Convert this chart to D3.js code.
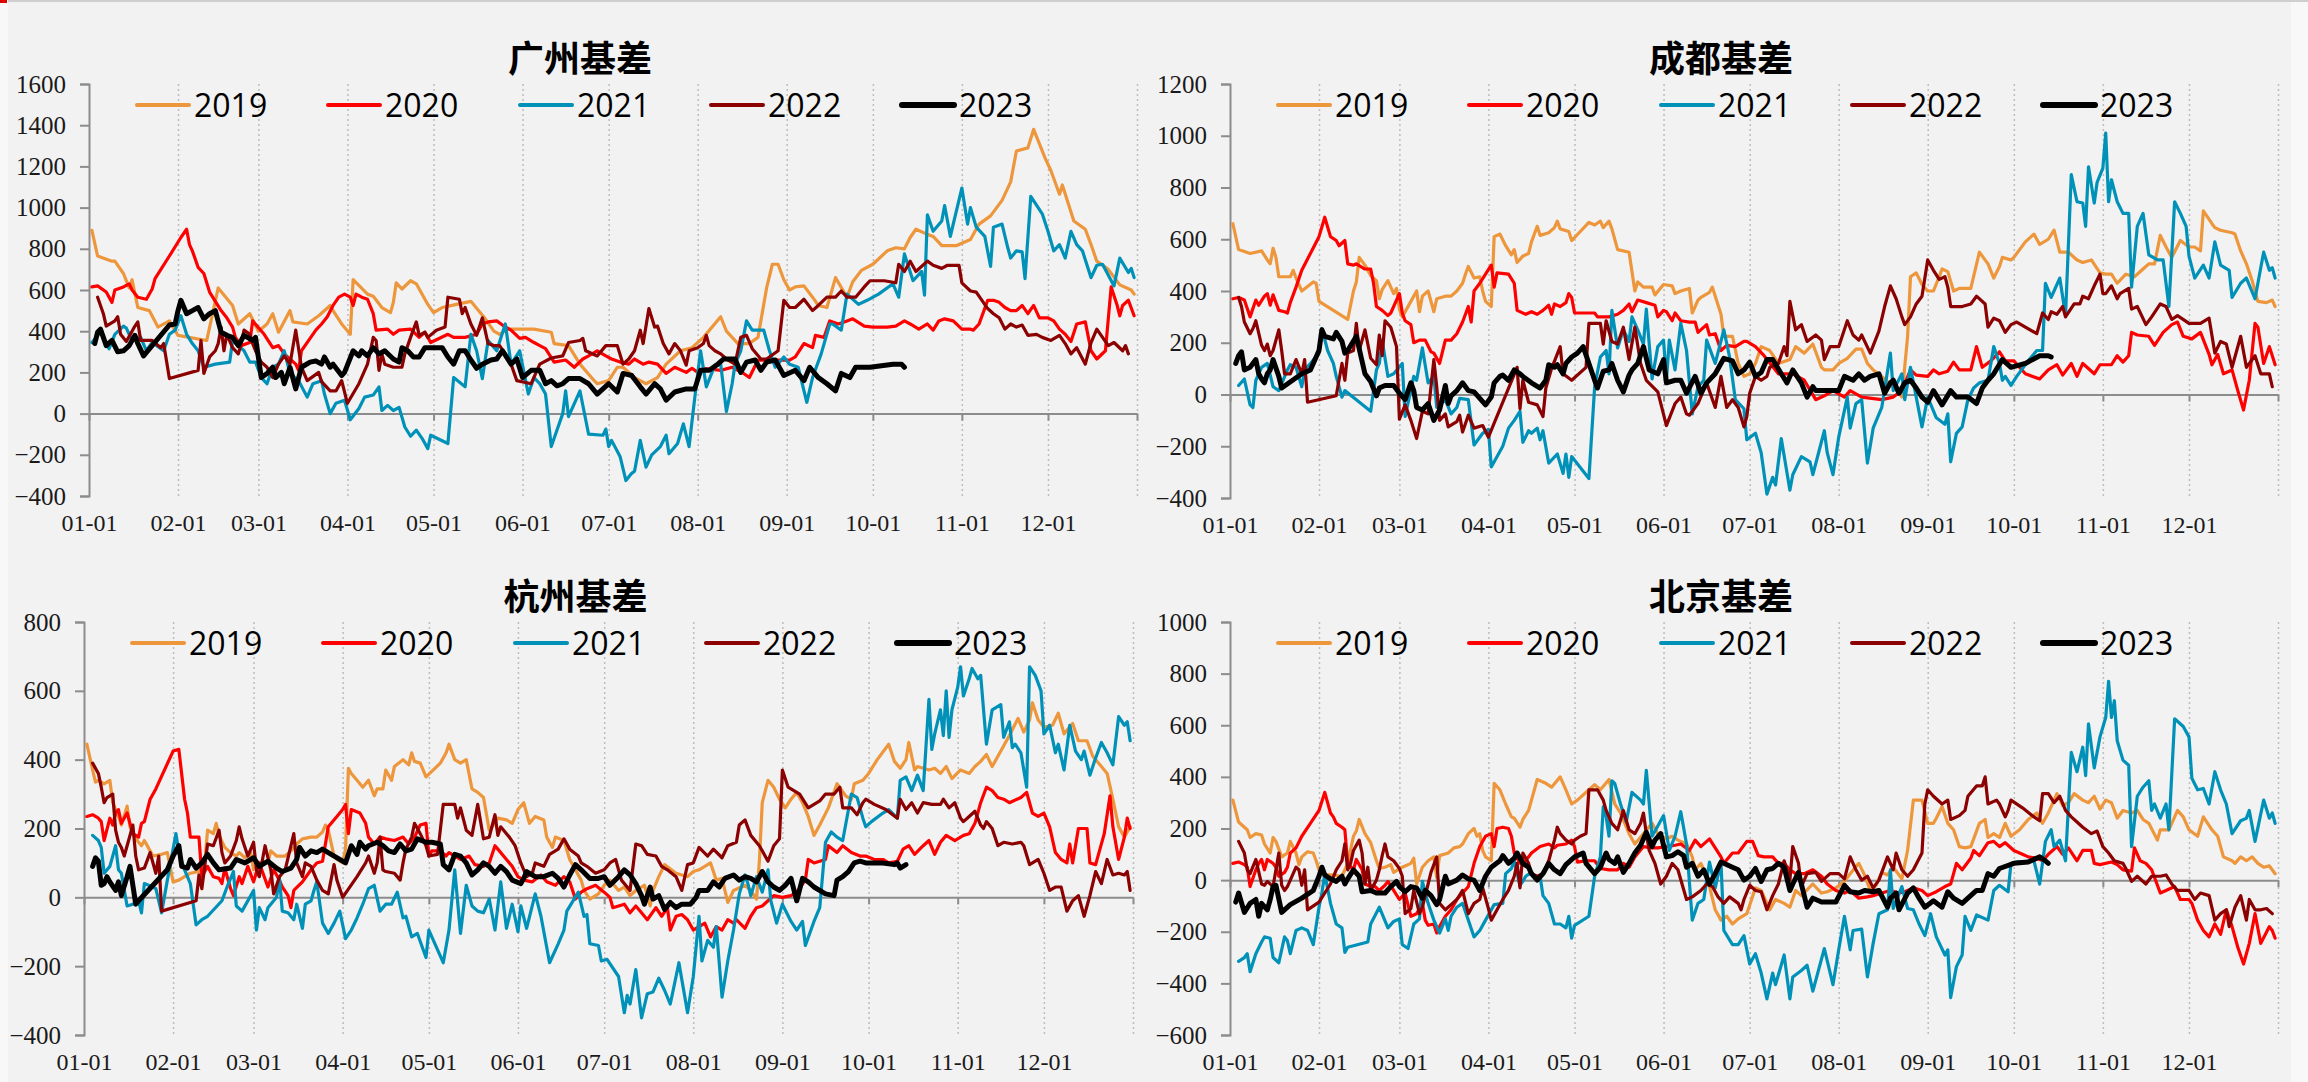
<!DOCTYPE html>
<html>
<head>
<meta charset="utf-8">
<style>
  html, body { margin: 0; padding: 0; background: #f2f2f2; }
  svg { display: block; }
  .tick text.serif { font-family: "Liberation Serif", "Times New Roman", serif; }
</style>
</head>
<body>
<div id="chart"></div>
<script src="https://d3js.org/d3.v7.min.js"></script>
<script>
// 年份与配色
const years = ["2019", "2020", "2021", "2022", "2023"];
const colors = ["#ED963C", "#FF0000", "#0091B9", "#8B0000", "#000000"];

// 数据: [年内第几天, 基差]
// 广州
const gz2019 = [[2,890],[4,765],[9,740],[10,740],[13,680],[15,610],[16,650],[18,515],[22,500],[25,420],[29,450],[32,380],[42,355],[46,610],[51,525],[53,435],[57,485],[60,400],[63,435],[65,485],[67,395],[71,500],[72,445],[77,435],[81,475],[85,525],[86,500],[89,435],[92,385],[93,650],[98,580],[100,570],[103,515],[106,490],[107,540],[108,635],[110,605],[113,645],[115,630],[119,530],[121,490],[124,515],[129,530],[134,545],[139,460],[142,400],[144,385],[147,410],[152,410],[156,410],[162,395],[163,340],[168,330],[172,240],[176,175],[178,145],[182,160],[185,225],[187,225],[191,175],[195,145],[199,175],[202,240],[207,305],[211,320],[215,370],[221,470],[223,400],[227,340],[231,340],[234,370],[237,610],[239,725],[241,725],[243,650],[245,600],[247,615],[250,620],[253,565],[255,525],[258,515],[261,660],[265,565],[267,640],[270,695],[274,725],[279,790],[282,805],[285,800],[287,855],[289,895],[293,870],[295,860],[298,815],[303,815],[308,845],[311,920],[315,960],[319,1035],[322,1125],[324,1275],[328,1290],[330,1380],[334,1240],[336,1180],[339,1065],[340,1110],[344,935],[348,895],[350,820],[352,740],[356,700],[360,625],[364,600],[365,580]];
const gz2020 = [[2,615],[4,620],[7,590],[9,540],[10,600],[13,615],[15,630],[16,600],[18,565],[21,555],[23,605],[24,655],[29,765],[33,855],[35,895],[36,820],[37,790],[39,710],[41,680],[43,590],[47,500],[49,465],[51,420],[52,370],[54,330],[57,345],[58,450],[62,385],[65,320],[67,330],[69,290],[73,240],[74,210],[75,305],[78,365],[80,405],[82,435],[84,470],[86,525],[88,565],[90,580],[92,565],[93,525],[94,580],[96,565],[98,555],[100,485],[101,405],[105,410],[107,385],[109,405],[113,410],[116,370],[118,395],[120,345],[126,385],[128,370],[132,370],[136,385],[138,435],[140,445],[143,450],[145,430],[148,405],[151,365],[153,370],[156,345],[158,330],[160,315],[163,250],[167,260],[170,225],[173,265],[175,280],[178,305],[181,280],[183,265],[186,250],[189,240],[191,265],[194,240],[196,250],[199,240],[202,195],[205,225],[209,200],[211,220],[213,200],[215,220],[221,210],[225,225],[229,195],[231,175],[234,260],[239,260],[245,260],[247,275],[250,340],[253,320],[254,380],[257,370],[259,450],[262,435],[265,450],[267,460],[271,425],[274,420],[279,420],[282,425],[285,450],[287,435],[290,410],[293,435],[295,405],[297,450],[299,460],[302,450],[305,410],[308,410],[309,405],[311,435],[314,550],[316,550],[318,540],[320,515],[322,500],[324,500],[326,525],[328,485],[330,525],[332,465],[335,465],[337,450],[339,410],[341,385],[343,350],[345,435],[348,445],[350,305],[352,265],[355,305],[357,615],[359,530],[360,475],[361,525],[363,550],[365,475]];
const gz2021 = [[2,345],[5,395],[8,315],[10,385],[13,425],[14,415],[16,355],[19,370],[21,305],[23,345],[27,305],[29,385],[31,405],[33,475],[35,385],[37,340],[39,305],[41,225],[45,240],[50,250],[51,355],[55,305],[57,250],[59,250],[61,175],[63,145],[65,225],[67,240],[69,305],[71,195],[74,160],[77,80],[79,145],[82,160],[83,95],[85,0],[87,50],[90,65],[92,-30],[95,25],[97,80],[100,90],[102,130],[103,15],[105,40],[107,15],[109,30],[111,-65],[113,-110],[115,-80],[117,-120],[119,-170],[120,-105],[126,-145],[128,175],[132,130],[134,385],[136,305],[138,170],[140,355],[143,305],[146,435],[148,240],[151,305],[154,95],[156,175],[158,145],[160,95],[162,-160],[164,-80],[166,0],[167,110],[168,-15],[172,110],[175,-100],[180,-105],[181,-75],[182,-160],[183,-130],[186,-210],[188,-325],[190,-290],[191,-280],[193,-130],[195,-260],[197,-200],[200,-160],[202,-105],[203,-195],[206,-145],[208,-50],[210,-160],[212,80],[214,305],[216,130],[219,235],[221,240],[223,10],[225,145],[226,240],[228,305],[230,450],[232,405],[236,405],[238,305],[240,225],[243,275],[245,240],[248,225],[251,55],[253,175],[256,290],[259,435],[260,435],[263,405],[265,580],[269,530],[272,550],[276,580],[281,630],[283,565],[285,775],[288,645],[291,690],[292,575],[293,965],[295,885],[298,935],[299,1010],[301,860],[302,920],[305,1095],[307,920],[308,1000],[310,905],[313,860],[315,715],[316,905],[319,920],[321,805],[322,755],[324,790],[326,785],[327,655],[329,1055],[333,970],[335,885],[337,790],[339,820],[341,755],[343,885],[345,820],[347,790],[350,660],[352,720],[354,725],[358,620],[360,755],[363,685],[364,705],[365,660]];
const gz2022 = [[4,565],[6,485],[7,425],[10,450],[11,470],[12,385],[14,350],[17,425],[18,445],[19,355],[23,355],[26,320],[27,340],[29,170],[39,210],[40,355],[41,195],[43,275],[45,305],[46,340],[47,420],[48,305],[49,385],[51,320],[53,290],[54,340],[55,405],[57,385],[58,340],[59,305],[61,250],[63,225],[65,175],[67,240],[69,280],[71,240],[73,405],[75,225],[77,160],[81,200],[82,155],[85,110],[87,110],[89,160],[91,50],[95,145],[98,240],[100,370],[101,355],[102,210],[103,290],[104,240],[107,225],[110,225],[111,290],[113,370],[115,445],[116,380],[118,395],[119,370],[122,405],[125,420],[126,565],[130,555],[131,485],[132,515],[134,435],[136,380],[138,465],[140,340],[142,330],[144,330],[146,290],[148,240],[150,160],[155,145],[158,240],[162,270],[166,280],[168,345],[172,355],[173,365],[174,305],[178,280],[181,330],[185,330],[187,240],[189,265],[191,305],[193,405],[194,340],[196,510],[198,420],[199,425],[201,340],[203,290],[205,340],[207,305],[209,235],[210,305],[213,320],[215,340],[216,380],[217,330],[219,305],[221,290],[223,265],[226,240],[228,370],[230,380],[232,315],[235,265],[237,265],[241,305],[243,550],[245,515],[247,515],[250,555],[253,500],[255,525],[258,565],[261,565],[263,595],[265,565],[268,565],[271,615],[273,645],[278,645],[282,635],[283,725],[285,690],[287,740],[289,690],[293,740],[295,720],[298,705],[300,720],[304,720],[305,635],[308,595],[310,590],[312,550],[314,510],[316,485],[318,465],[320,410],[322,435],[324,420],[326,430],[328,380],[331,385],[333,370],[336,355],[339,380],[341,340],[343,290],[345,320],[348,240],[350,345],[352,410],[354,370],[356,330],[358,345],[361,305],[362,330],[363,290]];
const gz2023 = [[3,340],[4,395],[5,410],[7,330],[9,355],[11,300],[13,305],[15,330],[17,380],[18,340],[20,280],[29,430],[31,435],[32,500],[33,550],[35,485],[37,500],[39,515],[41,460],[43,485],[45,500],[47,395],[49,380],[51,370],[53,330],[55,380],[58,355],[59,370],[61,175],[63,195],[65,225],[66,175],[68,200],[69,145],[71,225],[73,120],[75,225],[78,250],[80,255],[82,240],[83,275],[85,225],[86,240],[89,185],[90,200],[93,305],[95,280],[96,305],[98,280],[100,320],[102,290],[104,305],[107,265],[109,250],[110,320],[112,305],[114,275],[116,275],[118,320],[120,320],[124,320],[126,275],[128,240],[130,305],[132,305],[134,260],[136,220],[138,240],[141,260],[143,265],[145,305],[148,240],[150,265],[152,175],[155,210],[158,210],[160,145],[162,160],[164,135],[166,145],[168,170],[172,170],[175,145],[178,95],[182,145],[185,105],[187,195],[190,185],[193,130],[195,95],[198,145],[200,120],[202,65],[205,105],[209,120],[212,120],[214,210],[217,210],[220,240],[222,265],[226,265],[228,200],[230,250],[233,260],[235,210],[237,250],[240,260],[243,185],[247,210],[250,160],[252,225],[255,175],[258,145],[261,110],[263,195],[266,175],[268,225],[273,225],[281,240],[284,240],[285,225]];

// 成都
const cd2019 = [[2,660],[4,560],[8,545],[12,555],[14,520],[15,505],[16,565],[17,530],[18,455],[22,455],[23,480],[24,450],[26,400],[30,435],[31,430],[32,360],[42,290],[44,400],[45,435],[46,530],[48,500],[50,460],[52,440],[53,370],[54,405],[56,440],[58,390],[59,410],[60,330],[61,300],[64,360],[66,400],[67,320],[68,380],[70,400],[72,320],[73,370],[76,380],[78,380],[80,400],[82,430],[83,465],[84,495],[86,450],[88,455],[89,400],[90,360],[92,340],[93,610],[95,620],[97,575],[99,540],[100,560],[101,510],[103,535],[105,545],[106,590],[108,650],[109,615],[112,625],[114,645],[115,670],[116,640],[119,630],[120,595],[123,630],[126,665],[128,655],[130,670],[131,645],[133,670],[134,640],[136,560],[140,550],[142,400],[143,435],[145,415],[148,415],[149,385],[152,425],[155,420],[156,390],[158,400],[161,410],[162,315],[164,365],[165,375],[168,395],[169,415],[172,310],[173,225],[176,225],[178,120],[180,70],[182,80],[184,120],[186,185],[189,170],[192,120],[196,135],[198,185],[201,160],[204,195],[207,105],[208,95],[211,95],[213,120],[216,140],[219,175],[221,175],[223,120],[225,95],[228,70],[232,30],[235,-10],[237,225],[238,455],[240,470],[242,425],[244,400],[246,400],[248,455],[249,485],[251,475],[253,400],[255,410],[259,410],[262,550],[265,505],[267,450],[269,495],[270,530],[273,520],[274,530],[278,590],[281,620],[283,580],[286,600],[288,635],[290,550],[293,550],[296,520],[298,510],[301,520],[304,470],[306,465],[308,465],[310,430],[313,465],[316,455],[319,485],[321,505],[323,505],[325,615],[327,570],[329,530],[332,595],[335,570],[337,570],[339,555],[340,710],[343,660],[344,645],[346,635],[350,625],[351,620],[353,555],[355,505],[357,440],[359,360],[362,355],[364,365],[365,340]];
const cd2020 = [[2,370],[4,375],[6,365],[8,300],[10,365],[11,345],[13,380],[14,390],[15,345],[16,385],[18,325],[20,320],[21,315],[22,355],[24,415],[26,480],[32,610],[34,685],[36,610],[38,595],[39,575],[41,595],[42,505],[44,500],[45,505],[48,485],[50,485],[51,430],[52,340],[54,325],[56,305],[57,315],[60,390],[61,315],[62,285],[64,270],[65,200],[67,210],[69,210],[71,165],[72,160],[74,120],[76,210],[78,210],[80,235],[82,280],[84,340],[85,280],[86,400],[88,430],[90,465],[92,500],[93,415],[94,470],[98,465],[100,430],[101,325],[104,310],[106,320],[108,310],[110,325],[112,345],[113,310],[114,350],[116,340],[118,355],[119,390],[120,375],[121,315],[128,315],[129,300],[133,300],[136,310],[138,325],[140,350],[141,320],[143,365],[146,355],[149,345],[150,300],[152,325],[153,320],[155,285],[156,315],[158,285],[161,280],[163,280],[164,240],[167,270],[168,230],[170,235],[172,170],[174,190],[177,185],[180,205],[181,205],[184,185],[187,150],[192,80],[197,80],[201,55],[205,-20],[208,-5],[211,15],[215,-10],[217,15],[221,-10],[228,-20],[232,-10],[235,15],[238,95],[240,75],[244,70],[246,95],[248,80],[251,90],[253,125],[255,95],[259,95],[261,185],[263,105],[266,130],[269,165],[271,130],[274,130],[278,80],[283,60],[286,95],[289,115],[291,75],[294,120],[296,70],[298,120],[302,80],[304,115],[308,115],[310,150],[312,125],[314,150],[315,240],[317,230],[321,225],[323,190],[326,240],[329,270],[331,280],[333,225],[336,215],[339,240],[342,155],[343,115],[345,155],[347,80],[350,95],[352,15],[354,-60],[356,55],[358,275],[359,260],[361,120],[363,185],[365,115]];
const cd2021 = [[4,35],[6,60],[8,-40],[9,-50],[10,55],[12,105],[14,120],[16,30],[18,15],[21,95],[22,115],[24,105],[26,30],[27,95],[29,120],[32,160],[33,255],[35,170],[37,120],[38,70],[40,-10],[41,15],[45,-20],[50,-65],[52,95],[53,120],[54,210],[56,70],[58,80],[61,120],[62,-85],[65,70],[66,55],[68,180],[70,45],[72,70],[73,-50],[76,-20],[78,-75],[80,-50],[81,-15],[84,-20],[86,-195],[89,-150],[91,-135],[92,-280],[96,-200],[98,-130],[100,-100],[102,-65],[103,-185],[105,-140],[106,-150],[108,-130],[109,-175],[110,-140],[112,-265],[115,-230],[117,-305],[118,-230],[119,-320],[120,-240],[126,-325],[128,30],[130,145],[132,170],[133,80],[134,325],[136,180],[138,250],[140,205],[141,300],[143,250],[145,195],[146,330],[148,60],[150,185],[152,210],[153,55],[154,210],[156,95],[158,275],[160,170],[162,-75],[164,30],[166,55],[167,210],[170,120],[173,250],[175,145],[177,-20],[180,-55],[181,-175],[184,-150],[186,-225],[188,-385],[190,-320],[191,-350],[193,-170],[196,-370],[197,-310],[200,-240],[203,-260],[204,-310],[208,-140],[209,-225],[211,-310],[213,-165],[216,-10],[217,-130],[219,-35],[221,-20],[223,-265],[225,-130],[228,-50],[231,160],[232,15],[235,80],[236,-20],[238,105],[240,-10],[242,-125],[244,-10],[247,-90],[250,-115],[251,-75],[252,-260],[254,-150],[256,-125],[258,-20],[260,25],[262,45],[265,55],[267,185],[269,120],[270,55],[271,70],[273,35],[275,70],[279,130],[282,170],[284,170],[285,430],[287,375],[288,400],[290,450],[292,305],[294,850],[296,745],[298,740],[299,650],[300,880],[302,740],[303,820],[305,875],[306,1010],[307,745],[308,830],[310,745],[312,700],[314,700],[315,415],[317,650],[319,700],[321,540],[324,520],[326,520],[328,340],[330,745],[332,700],[334,650],[335,535],[337,450],[340,500],[342,450],[344,590],[346,500],[349,480],[350,375],[353,430],[355,450],[358,370],[361,550],[363,480],[364,490],[365,450]];
const cd2022 = [[4,375],[5,340],[6,280],[8,235],[9,255],[10,285],[12,190],[13,170],[14,195],[15,150],[16,170],[18,250],[19,170],[20,80],[22,80],[24,135],[26,80],[27,135],[28,-30],[38,-5],[40,120],[41,55],[42,160],[44,170],[45,275],[46,170],[48,250],[50,140],[52,115],[53,230],[54,150],[55,285],[57,260],[59,185],[60,-95],[62,-40],[64,-100],[66,-170],[68,-65],[70,-75],[72,135],[73,30],[74,-100],[76,-75],[77,-125],[80,-105],[81,-80],[82,-145],[84,-80],[86,-130],[89,-120],[91,-165],[101,105],[102,-55],[103,55],[105,-30],[108,-40],[110,-85],[111,25],[113,100],[116,185],[117,80],[120,55],[125,105],[126,275],[130,275],[131,195],[132,285],[134,205],[136,195],[138,260],[140,135],[142,260],[144,120],[146,55],[150,10],[153,-120],[156,-35],[158,-10],[160,-75],[161,-80],[164,-35],[167,45],[170,-50],[172,70],[174,-50],[176,-20],[178,-50],[180,-125],[181,-85],[182,5],[184,70],[186,55],[188,70],[189,105],[192,120],[194,185],[195,150],[196,360],[198,250],[200,270],[202,205],[205,230],[207,210],[208,135],[210,185],[213,185],[216,285],[218,230],[220,210],[221,230],[224,160],[227,245],[229,340],[231,420],[233,370],[235,300],[236,270],[238,300],[240,350],[242,380],[244,520],[246,480],[248,445],[250,455],[251,415],[252,340],[256,340],[259,350],[261,380],[264,350],[265,260],[267,295],[269,285],[271,240],[273,270],[275,280],[282,235],[284,315],[286,290],[287,320],[289,310],[291,340],[292,300],[295,350],[297,350],[298,380],[300,370],[302,420],[304,465],[305,390],[306,390],[308,420],[310,370],[311,390],[314,410],[315,330],[317,340],[320,270],[322,300],[325,350],[327,340],[329,290],[331,305],[335,275],[339,275],[342,295],[344,160],[346,205],[348,195],[350,105],[353,225],[355,105],[358,150],[360,80],[363,80],[364,30]];
const cd2023 = [[3,120],[4,150],[5,165],[6,95],[8,105],[10,135],[11,80],[12,60],[13,45],[14,80],[15,95],[16,135],[18,70],[19,25],[26,80],[29,95],[32,170],[33,250],[34,225],[37,215],[38,240],[40,205],[41,160],[42,170],[45,225],[48,80],[50,50],[52,-5],[53,25],[55,35],[58,35],[60,5],[62,-20],[64,45],[65,15],[66,-50],[68,-60],[70,-35],[72,-100],[74,-60],[76,35],[77,-35],[78,-5],[80,15],[82,45],[84,15],[86,10],[90,-40],[92,-10],[93,45],[95,70],[96,75],[98,55],[100,95],[102,80],[103,70],[106,45],[109,25],[111,55],[112,115],[114,105],[115,115],[117,80],[118,120],[120,145],[122,160],[124,185],[126,120],[128,55],[129,25],[131,90],[133,95],[134,120],[136,55],[138,10],[140,75],[141,95],[143,120],[145,185],[147,95],[150,80],[152,135],[153,45],[156,55],[158,55],[160,5],[163,70],[165,5],[167,45],[170,80],[173,140],[176,130],[178,80],[180,95],[182,125],[184,70],[186,85],[188,135],[190,135],[193,80],[195,45],[197,95],[200,45],[202,-10],[204,30],[205,15],[211,15],[213,15],[215,70],[218,55],[220,80],[222,55],[224,70],[227,80],[229,5],[231,45],[232,55],[234,5],[236,45],[238,55],[240,25],[242,-10],[244,-30],[246,15],[249,-40],[252,15],[254,-10],[258,-10],[261,-35],[263,25],[265,55],[267,80],[270,135],[273,105],[278,120],[283,150],[286,150],[287,145]];

// 杭州
const hz2019 = [[2,445],[4,370],[5,335],[6,340],[8,330],[10,340],[11,275],[13,235],[14,210],[16,265],[17,205],[18,185],[20,160],[21,150],[22,165],[24,135],[25,120],[28,125],[30,130],[32,45],[34,50],[36,60],[38,70],[41,75],[43,100],[44,195],[46,185],[47,215],[48,180],[50,145],[52,130],[54,120],[55,130],[57,115],[59,130],[60,80],[62,100],[65,100],[66,135],[68,120],[71,120],[73,135],[75,155],[77,170],[80,175],[82,175],[84,190],[85,210],[86,195],[88,120],[89,110],[91,100],[92,140],[93,375],[94,360],[96,340],[98,320],[100,340],[102,295],[103,315],[105,315],[106,370],[108,340],[109,380],[112,400],[114,385],[115,420],[116,395],[118,390],[120,350],[125,390],[127,420],[128,445],[130,400],[132,390],[134,400],[136,315],[138,305],[140,290],[142,195],[143,205],[145,230],[148,225],[150,215],[152,255],[154,275],[156,215],[158,235],[161,225],[162,175],[164,145],[165,175],[168,165],[170,110],[172,80],[174,50],[175,20],[177,-5],[180,10],[182,35],[184,50],[187,20],[189,30],[191,5],[193,20],[196,35],[198,-25],[199,20],[201,60],[203,95],[207,70],[211,60],[213,75],[215,80],[219,100],[221,50],[223,55],[225,-15],[227,20],[231,35],[233,20],[235,-5],[236,105],[237,275],[239,340],[241,320],[243,285],[245,260],[247,285],[249,305],[251,275],[253,235],[255,180],[257,210],[260,260],[263,330],[266,295],[268,285],[269,330],[272,340],[274,360],[277,400],[281,445],[283,395],[285,375],[287,400],[288,450],[290,370],[291,380],[295,370],[297,375],[299,360],[301,380],[303,345],[306,370],[309,360],[311,380],[313,395],[315,415],[317,380],[320,425],[323,470],[326,520],[328,480],[330,515],[331,565],[333,515],[335,495],[338,500],[340,535],[342,475],[345,505],[347,455],[350,455],[352,410],[355,380],[357,360],[359,285],[361,205],[363,175],[365,205]];
const hz2020 = [[2,235],[4,240],[6,230],[7,220],[8,165],[10,230],[11,210],[12,245],[13,255],[14,215],[16,245],[17,215],[18,185],[20,175],[21,215],[22,220],[24,285],[26,315],[32,425],[34,430],[36,285],[37,245],[38,175],[41,175],[42,60],[44,90],[46,60],[48,55],[49,40],[50,85],[52,25],[53,5],[55,60],[56,40],[58,90],[60,45],[62,100],[65,30],[67,80],[69,50],[70,30],[72,5],[73,-30],[74,20],[77,45],[80,80],[82,100],[84,105],[86,205],[89,235],[91,255],[92,270],[93,185],[94,255],[97,245],[99,215],[100,175],[102,155],[104,175],[106,170],[109,165],[112,175],[114,155],[116,175],[118,210],[120,215],[121,120],[122,135],[125,135],[127,120],[128,130],[132,110],[135,120],[137,95],[140,90],[142,100],[144,150],[145,140],[148,110],[150,90],[152,60],[154,50],[157,45],[160,65],[162,45],[165,35],[168,60],[170,45],[172,-5],[174,15],[176,25],[179,35],[182,15],[184,0],[185,-30],[187,-25],[189,-20],[191,-45],[193,-25],[195,-45],[197,-65],[200,-30],[202,-55],[204,-30],[205,-95],[207,-55],[209,-50],[211,-65],[213,-95],[215,-85],[217,-75],[219,-115],[221,-85],[223,-95],[225,-65],[227,-75],[228,-65],[231,-90],[233,-55],[235,-30],[237,-25],[239,-10],[241,5],[244,0],[247,5],[249,15],[252,50],[253,110],[255,100],[259,110],[260,150],[263,130],[265,150],[268,130],[271,120],[273,120],[276,110],[279,110],[281,100],[284,105],[286,140],[288,150],[290,125],[293,150],[295,165],[297,125],[299,160],[301,180],[304,165],[307,180],[309,185],[311,215],[313,275],[315,320],[317,310],[319,290],[321,285],[323,275],[327,290],[329,305],[331,245],[333,235],[335,245],[337,205],[339,130],[341,110],[343,100],[344,155],[345,100],[347,200],[350,200],[351,100],[353,95],[356,185],[358,295],[359,205],[361,110],[363,175],[364,230],[365,200]];
const hz2021 = [[4,180],[6,165],[7,145],[8,70],[10,90],[12,150],[13,80],[14,70],[16,-25],[18,-20],[20,-10],[21,-45],[22,40],[25,30],[26,25],[28,-45],[30,50],[33,185],[34,130],[36,80],[38,40],[40,-80],[42,-65],[44,-55],[49,-10],[51,35],[53,75],[54,-25],[56,-40],[60,20],[61,-95],[62,-30],[64,-65],[65,-30],[68,0],[69,55],[70,-40],[72,-45],[74,-65],[75,-20],[77,-90],[78,-20],[80,-10],[81,20],[82,45],[84,-75],[86,-105],[88,-75],[90,-40],[92,-120],[94,-95],[96,-60],[98,-20],[100,25],[102,35],[104,-40],[106,-20],[108,-20],[110,15],[112,-60],[113,-55],[115,-115],[117,-105],[120,-175],[121,-95],[126,-190],[128,-95],[130,80],[132,-105],[134,35],[136,-25],[138,-40],[140,-45],[142,-5],[144,-95],[146,45],[148,-90],[150,-20],[152,-100],[153,-25],[155,-90],[158,10],[160,-55],[163,-190],[166,-135],[168,-95],[169,-40],[173,15],[175,-55],[176,-50],[177,-135],[180,-140],[181,-185],[183,-180],[187,-230],[189,-335],[190,-285],[191,-310],[193,-210],[195,-350],[197,-280],[199,-275],[201,-235],[203,-270],[205,-310],[208,-190],[211,-335],[213,-230],[215,-55],[216,-185],[218,-125],[220,-145],[221,-85],[223,-290],[225,-185],[227,-95],[229,10],[231,65],[232,40],[233,5],[235,60],[237,15],[239,80],[240,-10],[242,-75],[244,-20],[247,-70],[249,-95],[251,-70],[252,-140],[255,-70],[257,-30],[259,160],[261,190],[263,175],[265,165],[267,255],[268,300],[270,290],[272,230],[273,205],[275,220],[279,245],[281,255],[284,230],[285,340],[287,350],[289,310],[291,355],[293,310],[295,575],[296,430],[297,475],[299,545],[300,470],[301,600],[302,465],[303,545],[305,610],[306,670],[307,585],[309,635],[310,665],[312,635],[313,645],[315,445],[317,545],[320,560],[321,465],[323,510],[324,435],[325,445],[327,420],[329,320],[330,670],[332,645],[334,600],[335,475],[337,500],[339,420],[340,445],[342,370],[344,500],[346,425],[348,400],[349,425],[351,355],[353,405],[355,450],[357,420],[359,385],[361,525],[363,500],[364,510],[365,455]];
const hz2022 = [[4,390],[6,360],[7,320],[8,275],[9,290],[11,300],[12,195],[13,160],[14,145],[15,120],[16,150],[18,210],[19,120],[20,80],[22,85],[24,130],[26,70],[27,120],[28,-40],[40,-10],[41,65],[42,25],[44,155],[46,150],[48,195],[49,130],[50,100],[52,120],[54,165],[55,205],[56,170],[58,120],[60,160],[61,80],[62,60],[64,150],[66,80],[67,10],[69,60],[71,80],[74,185],[75,100],[77,60],[78,100],[80,90],[82,50],[84,20],[86,10],[88,95],[89,50],[91,0],[96,60],[99,100],[100,120],[102,70],[103,100],[104,175],[105,80],[106,75],[109,70],[111,50],[112,100],[113,140],[115,175],[116,215],[118,185],[120,150],[121,120],[124,125],[126,270],[130,270],[131,230],[132,260],[134,195],[136,180],[138,270],[140,170],[142,175],[144,240],[145,180],[146,205],[149,175],[151,150],[153,100],[155,60],[157,70],[158,100],[161,90],[163,125],[166,140],[168,170],[170,140],[173,120],[174,100],[176,90],[179,70],[182,80],[184,100],[186,110],[188,50],[191,20],[193,155],[195,150],[197,125],[200,120],[202,90],[204,80],[207,60],[209,20],[211,95],[213,100],[215,145],[218,120],[220,140],[223,115],[225,150],[228,160],[229,210],[231,225],[233,180],[236,150],[239,105],[241,150],[243,170],[244,370],[246,320],[248,310],[250,300],[253,260],[255,270],[257,280],[259,300],[262,300],[264,320],[265,260],[268,260],[270,240],[272,275],[273,285],[276,270],[280,255],[284,230],[285,285],[287,255],[289,275],[291,245],[293,275],[296,270],[299,270],[300,285],[302,260],[304,275],[306,230],[307,220],[309,235],[311,250],[313,210],[314,200],[315,220],[317,200],[319,150],[321,160],[324,155],[327,160],[328,150],[330,95],[333,110],[335,70],[337,20],[339,30],[341,30],[343,-40],[345,-10],[347,5],[349,-55],[351,5],[353,75],[355,40],[357,110],[359,65],[361,70],[363,65],[364,75],[365,20]];
const hz2023 = [[4,90],[5,115],[6,105],[7,35],[8,40],[9,60],[10,45],[12,20],[13,45],[14,5],[16,60],[17,90],[19,-20],[20,-10],[30,80],[32,120],[34,150],[35,90],[37,85],[38,110],[40,85],[42,100],[44,125],[46,100],[48,80],[52,85],[54,110],[57,100],[60,115],[62,90],[65,105],[68,85],[70,75],[73,85],[75,110],[76,145],[78,120],[80,135],[82,130],[84,140],[87,125],[90,110],[92,100],[94,150],[96,125],[97,160],[99,140],[100,150],[103,160],[105,150],[107,135],[109,130],[111,155],[113,135],[115,140],[117,170],[120,160],[122,160],[125,155],[126,95],[128,80],[130,125],[132,120],[134,100],[136,65],[138,80],[140,100],[142,90],[144,70],[146,90],[148,75],[150,50],[153,40],[154,55],[155,75],[158,60],[161,60],[164,70],[166,55],[168,30],[170,65],[172,95],[174,80],[177,55],[180,55],[182,60],[184,35],[187,60],[189,80],[191,65],[193,40],[195,5],[196,-20],[198,30],[199,-5],[201,5],[203,-35],[205,-15],[207,-30],[209,-20],[212,-20],[214,0],[215,20],[218,20],[220,45],[222,30],[224,55],[227,65],[229,50],[231,60],[233,55],[235,45],[237,75],[239,45],[241,30],[243,20],[245,35],[247,55],[249,-10],[251,55],[253,45],[255,30],[259,10],[262,5],[263,50],[265,60],[267,75],[269,100],[271,105],[273,100],[279,100],[283,95],[284,100],[285,85],[287,95]];

// 北京
const bj2019 = [[2,310],[4,225],[6,205],[7,195],[8,165],[10,180],[12,175],[13,140],[15,105],[16,165],[17,150],[19,90],[21,105],[22,150],[24,105],[25,60],[26,90],[28,110],[30,105],[31,75],[32,40],[34,20],[36,20],[40,15],[42,65],[44,170],[45,190],[46,235],[48,180],[50,145],[52,75],[53,45],[55,50],[57,60],[58,30],[61,50],[64,65],[65,85],[66,-15],[68,50],[70,75],[72,90],[73,10],[74,95],[77,105],[79,125],[81,130],[82,140],[84,180],[86,200],[87,170],[88,180],[89,115],[90,90],[92,75],[93,375],[95,350],[97,295],[99,245],[100,240],[102,205],[103,235],[105,270],[106,310],[108,390],[111,375],[113,360],[116,400],[118,350],[120,295],[122,310],[126,350],[128,370],[130,350],[133,390],[135,295],[137,260],[140,180],[142,140],[145,180],[148,220],[150,180],[153,160],[155,170],[157,155],[160,140],[162,90],[163,40],[165,65],[166,40],[168,-25],[170,-115],[172,-155],[174,-140],[176,-170],[178,-150],[181,-130],[184,-30],[186,-40],[189,-115],[191,-75],[194,-90],[196,-105],[198,-40],[200,-60],[204,-15],[207,-50],[209,-45],[212,-30],[215,-5],[217,25],[220,65],[222,20],[224,-40],[226,-20],[228,30],[230,20],[232,50],[235,5],[237,115],[239,310],[242,310],[244,220],[246,220],[247,240],[249,285],[251,220],[253,195],[255,130],[257,125],[259,130],[262,220],[264,235],[265,165],[267,180],[269,165],[271,220],[273,170],[276,195],[279,235],[282,260],[284,220],[286,260],[289,335],[291,290],[293,300],[295,335],[298,310],[300,300],[302,325],[304,275],[306,310],[308,300],[310,240],[312,270],[315,260],[317,270],[319,235],[321,220],[324,155],[325,195],[328,195],[331,270],[333,245],[335,195],[338,170],[340,245],[343,195],[345,170],[347,90],[350,75],[351,65],[353,90],[355,75],[357,90],[359,65],[361,50],[363,55],[365,25]];
const bj2020 = [[2,65],[4,70],[6,60],[7,50],[8,-25],[10,40],[11,65],[12,80],[13,40],[14,80],[16,65],[17,50],[18,15],[20,30],[21,50],[22,105],[24,125],[26,170],[29,220],[32,270],[34,340],[36,260],[37,245],[38,220],[40,205],[41,195],[42,65],[44,40],[45,80],[47,40],[48,-15],[50,-25],[51,-20],[53,-40],[55,-20],[56,-5],[58,-40],[60,-75],[62,-50],[64,-140],[66,-130],[68,-90],[69,-155],[70,-175],[72,-170],[73,-205],[74,-180],[76,-140],[78,-115],[80,-75],[82,-50],[84,-25],[86,65],[88,130],[90,170],[92,180],[93,130],[94,200],[96,205],[98,200],[99,170],[100,105],[102,65],[103,65],[105,90],[106,105],[109,130],[112,140],[114,125],[115,135],[118,140],[120,155],[121,130],[122,70],[125,75],[128,75],[130,45],[133,40],[136,40],[138,65],[140,50],[142,90],[145,130],[148,125],[150,125],[153,130],[156,135],[158,140],[161,115],[163,155],[165,130],[168,160],[170,125],[172,90],[173,65],[176,105],[178,105],[181,150],[183,150],[185,95],[187,90],[190,90],[192,65],[194,65],[196,40],[198,25],[201,25],[204,40],[207,15],[209,-15],[212,-40],[215,-50],[217,-40],[220,-70],[223,-65],[225,-60],[228,-50],[231,-40],[234,-50],[236,-45],[239,-30],[242,-40],[244,-60],[247,-45],[250,-25],[252,-15],[254,65],[256,40],[259,85],[260,115],[262,95],[265,145],[267,150],[269,130],[271,145],[274,115],[277,100],[279,90],[282,85],[284,75],[286,100],[289,130],[291,100],[293,125],[296,75],[298,115],[301,115],[302,65],[304,60],[308,70],[310,60],[312,40],[315,35],[316,125],[318,75],[320,65],[322,40],[325,-50],[327,-40],[330,-25],[332,-75],[335,-75],[336,-90],[338,-155],[340,-195],[342,-220],[344,-170],[346,-210],[348,-115],[350,-180],[352,-260],[354,-325],[356,-245],[358,-130],[360,-245],[363,-180],[364,-195],[365,-225]];
const bj2021 = [[4,-315],[6,-300],[7,-285],[8,-355],[10,-285],[12,-240],[13,-220],[15,-225],[16,-300],[18,-320],[20,-220],[21,-235],[22,-285],[24,-195],[26,-185],[28,-195],[30,-250],[32,-105],[33,-50],[34,25],[36,-90],[38,-170],[40,-185],[41,-280],[42,-260],[49,-240],[50,-170],[53,-105],[56,-185],[58,-160],[60,-150],[61,-250],[63,-265],[65,-170],[67,-150],[68,-5],[70,-90],[72,-155],[74,-205],[76,-150],[77,-195],[78,-140],[80,-105],[82,-90],[84,-155],[86,-220],[88,-195],[90,-155],[93,-95],[96,-90],[97,25],[99,45],[100,75],[102,-20],[103,-5],[104,15],[106,30],[108,5],[109,15],[110,-60],[112,-90],[114,-170],[116,-170],[118,-185],[119,-140],[120,-225],[121,-175],[126,-140],[128,15],[130,90],[131,285],[132,245],[133,170],[134,385],[135,375],[137,295],[139,225],[141,340],[144,310],[145,295],[146,425],[148,170],[150,210],[152,250],[154,115],[156,170],[158,265],[160,140],[162,-155],[164,-90],[166,-75],[168,70],[170,-30],[172,70],[173,-195],[176,-250],[178,-250],[180,-215],[182,-325],[184,-285],[186,-360],[188,-460],[190,-360],[191,-405],[194,-290],[196,-460],[197,-375],[200,-350],[202,-330],[204,-430],[208,-265],[211,-405],[213,-270],[215,-140],[217,-270],[218,-195],[221,-190],[223,-375],[225,-245],[227,-130],[230,-115],[231,40],[232,-110],[235,-25],[237,-110],[239,-115],[241,-170],[243,-215],[245,-130],[247,-220],[250,-290],[251,-270],[252,-455],[254,-335],[256,-290],[257,-140],[259,-195],[261,-135],[265,-155],[267,-40],[269,-20],[272,-45],[273,65],[275,70],[281,75],[283,-15],[285,150],[287,195],[288,130],[290,155],[292,75],[294,495],[296,420],[298,515],[299,405],[300,605],[302,435],[304,555],[306,630],[307,770],[308,630],[309,695],[310,540],[312,465],[314,445],[315,130],[317,325],[319,360],[321,385],[322,270],[323,295],[325,240],[327,295],[328,195],[330,625],[333,595],[335,555],[336,395],[338,350],[340,355],[342,295],[344,420],[346,350],[348,295],[350,180],[353,230],[355,240],[356,270],[358,150],[361,310],[363,240],[364,260],[365,220]];
const bj2022 = [[4,150],[6,105],[7,40],[8,25],[10,80],[12,-15],[13,-20],[14,-5],[16,-25],[18,105],[19,-20],[20,-40],[21,-25],[23,25],[24,50],[25,40],[26,-20],[27,40],[28,-115],[32,-85],[36,-15],[38,40],[40,75],[41,140],[42,40],[43,65],[44,115],[46,155],[47,105],[48,-15],[49,50],[50,-40],[52,0],[53,40],[54,95],[55,140],[56,90],[58,75],[60,45],[61,15],[62,-130],[64,-110],[65,-40],[67,-130],[68,-105],[70,-15],[71,30],[73,90],[74,-90],[76,-115],[78,-95],[80,-75],[82,-40],[84,-130],[86,-90],[88,-75],[89,-30],[91,-110],[92,-155],[94,-115],[96,-75],[98,-40],[100,15],[101,65],[102,-30],[103,105],[105,65],[106,25],[108,15],[110,25],[112,75],[114,155],[115,205],[116,180],[118,155],[120,140],[121,155],[123,170],[125,180],[126,350],[129,350],[131,310],[132,270],[134,220],[136,195],[138,270],[140,195],[142,180],[144,220],[145,260],[146,180],[147,115],[149,65],[151,-15],[153,15],[155,65],[157,40],[160,-75],[162,-65],[165,-40],[167,-15],[169,-25],[171,-65],[173,-90],[175,-65],[178,-90],[179,-115],[180,-75],[182,-20],[184,-40],[186,-45],[188,-115],[190,-60],[192,-15],[194,75],[196,0],[197,130],[199,65],[200,-25],[202,25],[205,30],[207,-5],[210,25],[213,25],[215,5],[217,90],[219,40],[221,0],[223,15],[225,-30],[227,0],[230,90],[232,40],[233,105],[235,40],[237,15],[239,40],[242,105],[243,295],[244,350],[246,325],[249,295],[251,310],[252,235],[255,250],[257,270],[258,325],[261,365],[263,365],[264,400],[265,295],[268,310],[269,295],[271,245],[272,270],[273,310],[277,280],[281,245],[283,230],[284,335],[286,335],[288,300],[290,325],[292,270],[294,245],[296,225],[298,205],[301,180],[303,190],[305,130],[307,105],[309,75],[312,65],[313,45],[315,-5],[317,15],[320,-15],[322,15],[325,15],[327,20],[329,-15],[331,-40],[335,-40],[337,-75],[339,-50],[342,-60],[344,-155],[346,-130],[348,-115],[349,-180],[351,-105],[353,-60],[355,-155],[356,-75],[358,-115],[360,-115],[362,-110],[364,-130]];
const bj2023 = [[3,-85],[4,-50],[6,-125],[8,-90],[10,-75],[11,-140],[12,-90],[14,-115],[15,-75],[16,-25],[17,-20],[19,-125],[22,-95],[26,-70],[30,-40],[32,15],[33,50],[34,20],[36,5],[38,-5],[40,15],[41,-15],[42,5],[44,40],[46,15],[47,-45],[50,-40],[52,-50],[55,-50],[57,-25],[59,-5],[60,-25],[62,-45],[64,-25],[66,-30],[68,-70],[69,-40],[71,-60],[73,-95],[74,-75],[76,15],[77,-15],[80,0],[82,20],[84,5],[86,0],[88,-40],[90,15],[92,50],[95,75],[96,95],[98,65],[100,85],[101,105],[103,65],[105,50],[106,25],[108,0],[110,25],[112,65],[114,40],[116,25],[118,60],[119,70],[121,90],[124,105],[125,65],[128,25],[130,50],[132,105],[133,80],[135,65],[136,90],[138,30],[140,65],[142,105],[144,135],[146,185],[148,130],[149,155],[151,180],[153,90],[155,95],[157,110],[159,95],[160,50],[162,65],[164,15],[166,40],[168,-15],[170,25],[172,70],[176,50],[178,40],[180,0],[182,15],[184,45],[186,-5],[188,40],[190,45],[192,65],[194,50],[196,-40],[197,-15],[199,30],[200,-15],[202,-105],[204,-70],[207,-85],[209,-85],[212,-85],[215,-20],[217,-45],[220,-50],[222,-40],[225,-45],[227,-40],[230,-105],[231,-70],[233,-50],[234,-115],[237,-50],[239,-30],[241,-70],[243,-105],[246,-80],[249,-105],[251,-45],[253,-70],[256,-90],[258,-70],[261,-40],[263,-40],[265,25],[267,15],[269,45],[274,65],[279,70],[283,90],[285,75],[286,65]];

const cities = [
  { title: "广州基差", series: [gz2019, gz2020, gz2021, gz2022, gz2023], yMin: -400, yMax: 1600 },
  { title: "成都基差", series: [cd2019, cd2020, cd2021, cd2022, cd2023], yMin: -400, yMax: 1200 },
  { title: "杭州基差", series: [hz2019, hz2020, hz2021, hz2022, hz2023], yMin: -400, yMax: 800 },
  { title: "北京基差", series: [bj2019, bj2020, bj2021, bj2022, bj2023], yMin: -600, yMax: 1000 }
];

// 版面
const W = 2308, H = 1082;
const frames = [
  { left: 89,   right: 1137, top: 84,  bottom: 496 },
  { left: 1230, right: 2278, top: 84,  bottom: 498 },
  { left: 84,   right: 1133, top: 622, bottom: 1035 },
  { left: 1230, right: 2278, top: 622, bottom: 1035 }
];
const legendOffsets = [48, 239, 431, 622, 813];
const axisColor = "#8c8c8c";
const serif = "'Liberation Serif', 'Times New Roman', serif";

const svg = d3.select("#chart").append("svg")
  .attr("width", W).attr("height", H);

svg.append("rect").attr("width", W).attr("height", H).attr("fill", "#f2f2f2");
svg.append("rect").attr("width", 8).attr("height", H).attr("fill", "#f8f8f8");
svg.append("rect").attr("x", 2291).attr("width", W - 2291).attr("height", H).attr("fill", "#f8f8f8");
svg.append("line").attr("x1", 8).attr("x2", W).attr("y1", 1).attr("y2", 1)
  .attr("stroke", "#cfcfcf").attr("stroke-width", 2);
svg.append("rect").attr("width", 7).attr("height", 3).attr("fill", "#e00000");

const start = new Date(2001, 0, 1), end = new Date(2002, 0, 1);
const months = d3.timeMonth.range(start, d3.timeDay.offset(end, 1));
const toDate = d => new Date(2001, 0, d);
const fmt = d3.timeFormat("%m-%d");

cities.forEach((c, i) => {
  const f = frames[i];
  const x = d3.scaleTime().domain([start, end]).range([f.left, f.right]);
  const y = d3.scaleLinear().domain([c.yMin, c.yMax]).range([f.bottom, f.top]);
  const g = svg.append("g");

  // 月份虚线网格
  g.append("g")
    .attr("transform", `translate(0,${f.top})`)
    .call(d3.axisBottom(x).tickValues(months.slice(1)).tickSize(f.bottom - f.top).tickFormat(""))
    .call(a => a.select(".domain").remove())
    .selectAll("line")
      .attr("stroke", "#bdbdbd")
      .attr("stroke-width", 1.5)
      .attr("stroke-dasharray", "2,3");

  // 零轴
  g.append("g")
    .attr("transform", `translate(0,${y(0)})`)
    .call(d3.axisBottom(x).tickValues(months).tickSize(7).tickSizeOuter(0).tickFormat(""))
    .call(a => {
      a.select(".domain").attr("stroke", axisColor).attr("stroke-width", 2);
      a.selectAll("line").attr("stroke", axisColor).attr("stroke-width", 2);
    });

  // 日期标签
  g.append("g")
    .attr("transform", `translate(0,${f.bottom})`)
    .call(d3.axisBottom(x).tickValues(months.slice(0, 12)).tickSize(0).tickPadding(18).tickFormat(fmt))
    .call(a => a.select(".domain").remove())
    .selectAll("text")
      .style("font-family", serif)
      .style("font-size", "24px")
      .attr("fill", "#1a1a1a");

  // 纵轴
  g.append("g")
    .attr("transform", `translate(${f.left},0)`)
    .call(d3.axisLeft(y).tickValues(d3.range(c.yMin, c.yMax + 1, 200))
      .tickFormat(d3.format("d")).tickSize(9).tickPadding(14))
    .call(a => {
      a.select(".domain").attr("stroke", axisColor).attr("stroke-width", 2);
      a.selectAll("line").attr("stroke", axisColor).attr("stroke-width", 2);
      a.selectAll("text")
        .style("font-family", serif)
        .style("font-size", "25px")
        .attr("fill", "#1a1a1a");
    });

  // 折线
  const line = d3.line()
    .x(d => x(toDate(d[0])))
    .y(d => y(d[1]));

  g.append("g").selectAll("path")
    .data(c.series)
    .enter().append("path")
      .attr("d", line)
      .attr("fill", "none")
      .attr("stroke", (d, k) => colors[k])
      .attr("stroke-width", (d, k) => k === 4 ? 5 : 3.2)
      .attr("stroke-linejoin", "round")
      .attr("stroke-linecap", "round");

  // 图例
  const legend = g.append("g").attr("transform", `translate(${f.left},${f.top + 21})`);
  const item = legend.selectAll("g")
    .data(years)
    .enter().append("g")
      .attr("transform", (d, k) => `translate(${legendOffsets[k]},0)`);
  item.append("line")
    .attr("x1", 0).attr("x2", 52)
    .attr("stroke", (d, k) => colors[k])
    .attr("stroke-width", (d, k) => k === 4 ? 6 : 4)
    .attr("stroke-linecap", "round");
  item.append("text")
    .attr("x", 57).attr("dy", "0.36em")
    .style("font-family", "'Open Sans', 'Noto Sans', sans-serif")
    .style("font-size", "32px")
    .attr("fill", "#000")
    .text(d => d);

  // 标题
  g.append("text")
    .attr("x", (f.left + f.right) / 2 - 33)
    .attr("y", f.top - 25)
    .attr("dy", "0.36em")
    .attr("text-anchor", "middle")
    .style("font-family", "'Noto Sans CJK SC', sans-serif")
    .style("font-weight", "bold")
    .style("font-size", "36px")
    .attr("fill", "#000")
    .text(c.title);
});
</script>
</body>
</html>
